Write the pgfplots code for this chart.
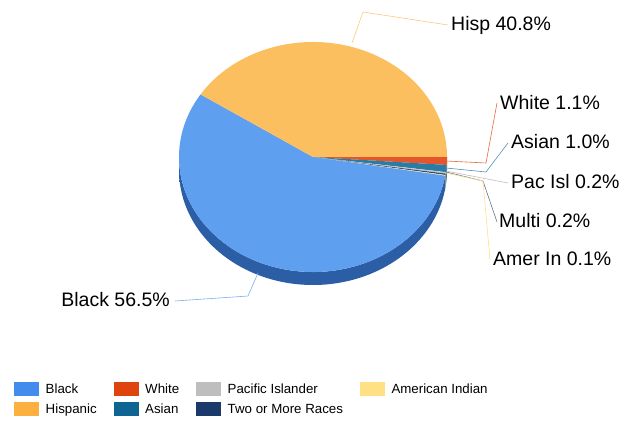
\documentclass[border=0pt]{standalone}
\usepackage{pgfplots}
\pgfplotsset{compat=1.18}
\usepackage{fontspec}
\setmainfont{Liberation Sans}

% legend colours
\definecolor{lBlack}{HTML}{438CEE}
\definecolor{lHisp}{HTML}{FBB040}
\definecolor{lWhite}{HTML}{E0440E}
\definecolor{lAsian}{HTML}{0E6593}
\definecolor{lPac}{HTML}{BEBEBE}
\definecolor{lMulti}{HTML}{1B3A6B}
\definecolor{lAmer}{HTML}{FFE084}
% pie face colours
\definecolor{fBlack}{HTML}{5E9FF0}
\definecolor{fHisp}{HTML}{FBBF5F}
\definecolor{fWhite}{HTML}{E5562A}
\definecolor{fAsian}{HTML}{2A7CA4}
\definecolor{fPac}{HTML}{C8C8C8}
\definecolor{fMulti}{HTML}{2D4E80}
\definecolor{fAmer}{HTML}{FFE48F}
% side colours
\definecolor{sBlackA}{HTML}{2C5EA6}
\definecolor{sBlackB}{HTML}{3F88E4}

\tikzset{
  sBlack/.style={left color=sBlackA, middle color=sBlackB, right color=sBlackA},
  sHisp/.style={fill=lHisp!80!black},
  sWhite/.style={fill=lWhite!80!black},
  sAsian/.style={fill=lAsian!80!black},
  sPac/.style={fill=lPac!80!black},
  sMulti/.style={fill=lMulti!80!black},
  sAmer/.style={fill=lAmer!80!black},
}

\def\pieX{313}\def\pieY{157}

\begin{document}
\begin{tikzpicture}
\begin{axis}[
  width=635pt, height=425pt, scale only axis,
  xmin=0, xmax=635, ymin=0, ymax=425, y dir=reverse,
  enlargelimits=false, hide axis, clip=false,
  legend columns=4,
  legend cell align=left,
  legend style={at={(axis cs:14,380)}, anchor=north west, draw=none, fill=none,
    inner sep=0pt, row sep=2pt, font=\fontsize{13.3}{15}\selectfont,
    nodes={inner sep=3.5pt},
    /tikz/every odd column/.append style={column sep=3pt},
    /tikz/every even column/.append style={column sep=13.5pt},
    /tikz/column 6/.append style={column sep=16.5pt}},
  legend image code/.code={\fill[#1, draw=none] (0pt,-7pt) rectangle (25pt,7pt);},
]
\addlegendimage{fill=lBlack}\addlegendentry{Black}
\addlegendimage{fill=lWhite}\addlegendentry{White}
\addlegendimage{fill=lPac}\addlegendentry{Pacific Islander}
\addlegendimage{fill=lAmer}\addlegendentry{American Indian}
\addlegendimage{fill=lHisp}\addlegendentry{Hispanic}
\addlegendimage{fill=lAsian}\addlegendentry{Asian}
\addlegendimage{fill=lMulti}\addlegendentry{Two or More Races}

\pgfplotsextra{%
  % sides (front half only)
  \xdef\cumA{0}%
  \foreach \v/\fc/\sd in {1.1/fWhite/sWhite, 1.0/fAsian/sAsian, 0.2/fPac/sPac,
      0.2/fMulti/sMulti, 0.1/fAmer/sAmer, 56.5/fBlack/sBlack, 40.8/fHisp/sHisp}{%
    \pgfmathsetmacro\aS{\cumA}%
    \pgfmathsetmacro\aE{\cumA-\v/99.9*360}%
    \pgfmathsetmacro\sE{max(\aE,-180)}%
    \pgfmathtruncatemacro\vis{\aS>-180 ? 1 : 0}%
    \ifnum\vis=1
      \path[\sd] (axis cs:\pieX,\pieY) ++(\aS:134pt and 115pt)
        arc[start angle=\aS, end angle=\sE, x radius=134pt, y radius=115pt]
        -- ++(0,-13pt)
        arc[start angle=\sE, end angle=\aS, x radius=134pt, y radius=115pt]
        -- cycle;
    \fi
    \xdef\cumA{\aE}%
  }%
  % top faces
  \xdef\cumA{0}%
  \foreach \v/\fc/\sd in {1.1/fWhite/sWhite, 1.0/fAsian/sAsian, 0.2/fPac/sPac,
      0.2/fMulti/sMulti, 0.1/fAmer/sAmer, 56.5/fBlack/sBlack, 40.8/fHisp/sHisp}{%
    \pgfmathsetmacro\aS{\cumA}%
    \pgfmathsetmacro\aE{\cumA-\v/99.9*360}%
    \fill[\fc] (axis cs:\pieX,\pieY) -- ++(\aS:134pt and 115pt)
      arc[start angle=\aS, end angle=\aE, x radius=134pt, y radius=115pt] -- cycle;
    \xdef\cumA{\aE}%
  }%
}

% leader lines and labels
\begin{scope}[line width=0.6pt]
\draw[lHisp!70] (axis cs:352,43) -- (axis cs:363,12) -- (axis cs:448,25);
\draw[lBlack!70] (axis cs:258,273) -- (axis cs:248,296) -- (axis cs:175,301);
\draw[lWhite!80] (axis cs:446,161) -- (axis cs:486,163) -- (axis cs:497,103);
\draw[lAsian!70] (axis cs:446,168) -- (axis cs:486,172) -- (axis cs:508,143);
\draw[lPac] (axis cs:446,171) -- (axis cs:508,183);
\draw[lMulti!70] (axis cs:446,172) -- (axis cs:483,181) -- (axis cs:497,222);
\draw[lAmer] (axis cs:446,173) -- (axis cs:483,181) -- (axis cs:490,260);
\end{scope}
\begin{scope}[every node/.style={inner sep=0pt, font=\fontsize{19.5}{22}\selectfont}]
\node[anchor=base west] at (axis cs:451,31) {Hisp 40.8\%};
\node[anchor=base east] at (axis cs:170,306) {Black 56.5\%};
\node[anchor=base west] at (axis cs:500,110) {White 1.1\%};
\node[anchor=base west] at (axis cs:511,149) {Asian 1.0\%};
\node[anchor=base west] at (axis cs:511,189) {Pac Isl 0.2\%};
\node[anchor=base west] at (axis cs:499,227) {Multi 0.2\%};
\node[anchor=base west] at (axis cs:493,265) {Amer In 0.1\%};
\end{scope}
\end{axis}
\pgfresetboundingbox
\useasboundingbox (0,0) rectangle (635pt,425pt);
\end{tikzpicture}
\end{document}
